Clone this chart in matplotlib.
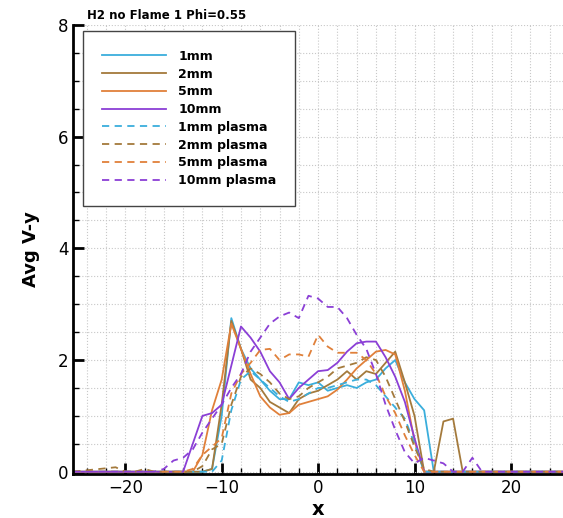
import numpy as np
import matplotlib
matplotlib.use("Agg")
from matplotlib import pyplot as plt
from matplotlib.ticker import MultipleLocator

# x positions (shared by every series)
x = [-25.4] + list(range(-21, 19)) + [25.4]

# solid curves            -21 ... -12 | -11 ... 0 ... 18
v_1mm = [0,
         0, 0, 0, 0, 0, 0, 0, 0, 0, 0,
         0.05, 1.0, 2.75, 2.2, 1.85, 1.65, 1.45, 1.3, 1.3, 1.6, 1.55, 1.6,
         1.45, 1.5, 1.55, 1.5, 1.6, 1.65, 1.85, 2.0, 1.6, 1.3, 1.1, 0, 0, 0, 0, 0, 0, 0,
         0]
v_2mm = [0,
         0, 0, 0, 0, 0, 0, 0, 0, 0, 0,
         0.05, 1.2, 2.7, 2.2, 1.65, 1.5, 1.25, 1.15, 1.05, 1.3, 1.4, 1.45,
         1.55, 1.65, 1.8, 1.65, 1.8, 1.75, 1.95, 2.15, 1.6, 1.0, 0, 0, 0.9, 0.95, 0, 0, 0, 0,
         0]
v_5mm = [0,
         0, 0, 0, 0, 0, 0, 0, 0, 0, 0.3,
         1.1, 1.65, 2.65, 2.2, 1.75, 1.35, 1.15, 1.02, 1.05, 1.2, 1.25, 1.3,
         1.35, 1.47, 1.65, 1.85, 2.0, 2.15, 2.18, 2.1, 1.45, 0.55, 0, 0, 0, 0, 0, 0, 0, 0,
         0]
v_10mm = [0,
          0, 0, 0, 0, 0, 0, 0, 0, 0.5, 1.0,
          1.05, 1.2, 1.9, 2.6, 2.4, 2.15, 1.8, 1.6, 1.3, 1.5, 1.65, 1.8,
          1.82, 1.95, 2.15, 2.3, 2.33, 2.33, 2.05, 1.7, 1.25, 0.6, 0, 0, 0, 0, 0, 0, 0, 0,
          0]

# dashed curves (plasma)
p_1mm = [0,
         0, 0, 0, 0, 0, 0, 0, 0, 0, 0,
         0, 0.2, 1.1, 1.65, 1.8, 1.65, 1.5, 1.35, 1.25, 1.3, 1.4, 1.5,
         1.5, 1.55, 1.6, 1.65, 1.65, 1.55, 1.35, 1.15, 0.95, 0.5, 0, 0, 0, 0, 0, 0, 0, 0,
         0]
p_2mm = [0,
         0.08, 0, 0, 0.05, 0, 0, 0, 0, 0, 0.1,
         0.4, 0.5, 1.2, 1.7, 1.85, 1.75, 1.6, 1.4, 1.3, 1.35, 1.5, 1.6,
         1.7, 1.85, 1.9, 1.95, 2.05, 2.0, 1.7, 1.3, 0.9, 0.45, 0.05, 0, 0, 0, 0, 0, 0, 0,
         0]
p_5mm = [0,
         0, 0, 0, 0, 0, 0, 0, 0, 0.05, 0.3,
         0.45, 0.6, 1.4, 1.75, 1.95, 2.18, 2.2, 2.0, 2.1, 2.1, 2.06, 2.45,
         2.24, 2.13, 2.13, 2.13, 2.0, 1.75, 1.35, 1.05, 0.65, 0.3, 0, 0, 0, 0, 0, 0, 0, 0,
         0]
p_10mm = [0,
          0, 0, 0, 0, 0, 0.05, 0.2, 0.25, 0.4, 0.7,
          0.95, 1.2, 1.5, 1.75, 2.15, 2.4, 2.65, 2.78, 2.85, 2.75, 3.15, 3.1,
          2.95, 2.95, 2.75, 2.45, 2.2, 1.75, 1.2, 0.75, 0.35, 0.15, 0.25, 0.2, 0.15, 0, 0, 0.25, 0, 0,
          0]

labels = ["1mm", "2mm", "5mm", "10mm",
          "1mm plasma", "2mm plasma", "5mm plasma", "10mm plasma"]
colors = ["#3aaedc", "#a47a3c", "#e0803a", "#8b3fd6"]

fig = plt.figure(figsize=(5.63, 5.18), dpi=100)
ax = fig.add_axes([0.13, 0.085, 0.87, 0.867])

solid = [v_1mm, v_2mm, v_5mm, v_10mm]
dashed = [p_1mm, p_2mm, p_5mm, p_10mm]
for i in range(4):
    ax.plot(x, solid[i], color=colors[i], lw=1.3, label=labels[i])
for i in range(4):
    ax.plot(x, dashed[i], color=colors[i], lw=1.3, ls=(0, (4, 3)),
            label=labels[i + 4])

ax.set_xlim(-25.4, 25.4)
ax.set_ylim(-0.04, 8)
ax.xaxis.set_major_locator(MultipleLocator(10))
ax.xaxis.set_minor_locator(MultipleLocator(2))
ax.yaxis.set_major_locator(MultipleLocator(2))
ax.yaxis.set_minor_locator(MultipleLocator(0.5))
ax.grid(which="both", color="#c8c8c8", ls=":", lw=0.8)
ax.set_axisbelow(True)

for s in ["top", "right"]:
    ax.spines[s].set_visible(False)
for s in ["left", "bottom"]:
    ax.spines[s].set_linewidth(2)
ax.tick_params(which="major", direction="in", length=8, width=2, labelsize=12)
ax.tick_params(which="minor", direction="in", length=4, width=1)

ax.set_xlabel("x", fontsize=14, fontweight="bold", labelpad=2)
ax.set_ylabel("Avg V-y", fontsize=13, fontweight="bold", labelpad=13)
fig.text(0.155, 0.958, "H2 no Flame 1 Phi=0.55", fontsize=8.5,
         fontweight="bold", va="bottom")

leg = ax.legend(loc="upper left", bbox_to_anchor=(0.008, 1.0),
                prop={"weight": "bold", "size": 9}, handlelength=5.1,
                labelspacing=0.38, borderpad=1.5, handletextpad=1.0,
                fancybox=False, framealpha=1, edgecolor="#444444")
leg.get_frame().set_linewidth(1.0)

fig.savefig("out.png", dpi=100)
